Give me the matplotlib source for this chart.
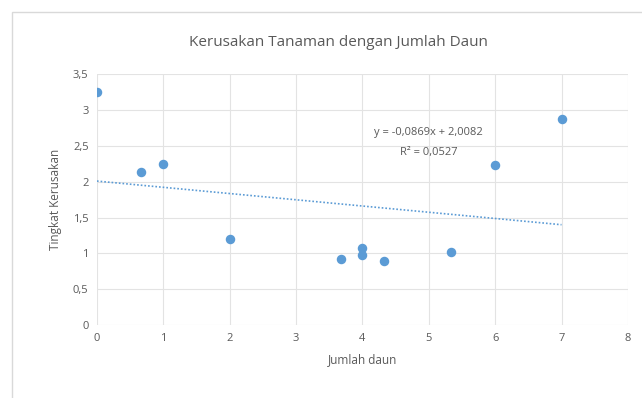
import numpy as np
import matplotlib.pyplot as plt
from matplotlib.patches import Rectangle
from matplotlib.ticker import FuncFormatter

# Data
jumlah_daun = [0, 0.67, 1, 2, 3.67, 4, 4, 4.33, 5.33, 6, 7]
kerusakan = [3.25, 2.13, 2.25, 1.2, 0.92, 1.07, 0.98, 0.9, 1.02, 2.23, 2.88]

# Trendline as shown in the chart
slope = -0.0869
intercept = 2.0082
r2 = 0.0527

blue = '#5B9BD5'
grey = '#595959'

plt.rcParams['font.family'] = ['Open Sans', 'DejaVu Sans']

fig = plt.figure(figsize=(6.42, 3.98), dpi=100)
ax = fig.add_axes([0.151, 0.183, 0.827, 0.631])

# chart border
fig.patches.append(Rectangle((12 / 642, -0.01), 1.0, 1 - 12 / 398 + 0.01, transform=fig.transFigure,
                             fill=False, edgecolor='#d9d9d9', linewidth=1))

ax.scatter(jumlah_daun, kerusakan, s=34, color=blue, zorder=3)

xt = np.array([min(jumlah_daun), max(jumlah_daun)])
ax.plot(xt, slope * xt + intercept, linestyle=(0, (1, 1.2)), color=blue, linewidth=1.2, zorder=2)

ax.text(5.0, 2.69, 'y = {:.4f}x + {:.4f}'.format(slope, intercept).replace('.', ','),
        ha='center', va='center', fontsize=8, color=grey)
ax.text(5.0, 2.41, 'R² = {:.4f}'.format(r2).replace('.', ','),
        ha='center', va='center', fontsize=8, color=grey)

ax.set_xlim(0, 8)
ax.set_ylim(0, 3.5)
ax.set_xticks(range(0, 9))
ax.set_yticks(np.arange(0, 3.51, 0.5))
ax.yaxis.set_major_formatter(FuncFormatter(lambda v, p: ('%g' % v).replace('.', ',')))
ax.grid(True, color='#e3e3e3', linewidth=0.8)
ax.set_axisbelow(True)
for s in ax.spines.values():
    s.set_visible(False)
ax.tick_params(length=0, colors=grey, labelsize=8, pad=6)

fig.text(338 / 642, 1 - 43 / 398, 'Kerusakan Tanaman dengan Jumlah Daun',
         ha='center', va='center', fontsize=11, color=grey)
ax.set_xlabel('Jumlah daun', fontsize=8.5, color=grey, labelpad=6)
ax.set_ylabel('Tingkat Kerusakan', fontsize=8.5, color=grey, labelpad=8)

fig.savefig('out.png', dpi=100, facecolor='white')
